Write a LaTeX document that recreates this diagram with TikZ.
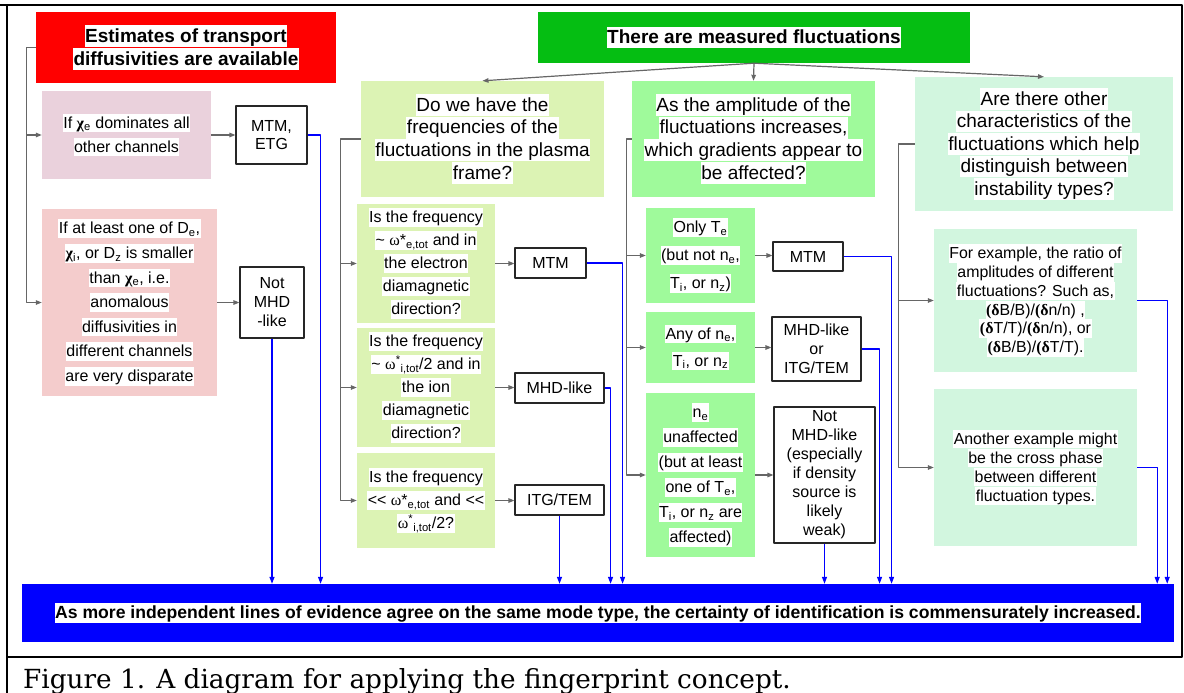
\documentclass[tikz,border=0pt]{standalone}
\usepackage{fontspec}
\setmainfont{Liberation Sans}
\newfontfamily\grk{Liberation Serif}
\newfontfamily\capfont{DejaVu Serif}
\usetikzlibrary{arrows.meta}
\definecolor{boxred}{RGB}{255,0,0}
\definecolor{boxgreen}{RGB}{5,190,18}
\definecolor{mauve}{RGB}{234,209,220}
\definecolor{rose}{RGB}{244,204,204}
\definecolor{lime}{RGB}{220,243,180}
\definecolor{mint}{RGB}{159,250,155}
\definecolor{pale}{RGB}{210,246,223}
\definecolor{linegray}{RGB}{102,102,102}
\newcommand{\hilite}[1]{{\setlength{\fboxsep}{0.5pt}\colorbox{white}{\rule[-0.22em]{0pt}{1.1em}#1}}}
\newcommand{\lo}[1]{\textsubscript{#1}}
\begin{document}
\begin{tikzpicture}[x=1pt, y=-1pt, line join=round, >={Triangle[length=6pt,width=4.5pt]},
  every node/.style={inner sep=0pt, align=center},
  qbox/.style={font=\fontsize{16}{23}\selectfont},
  bigq/.style={font=\fontsize{19}{22.7}\selectfont},
  res/.style={draw=black!85, line width=1.1pt, fill=white, font=\fontsize{16}{19}\selectfont},
  gray line/.style={draw=linegray, line width=1.2pt},
  blue line/.style={draw=blue, line width=1.2pt, >={Triangle[length=7pt,width=5pt]}}]
\useasboundingbox (0,0) rectangle (1184,693);
\draw[line width=2pt] (7,5) rectangle (1182,657);
\draw[line width=2pt] (0,5) -- (7,5) (7,657) -- (7,693);

\node[fill=boxred, minimum width=300pt, minimum height=71pt, font=\fontsize{19}{23.3}\selectfont\bfseries] (avail) at (186,47.5)
  {\hilite{Estimates of transport}\\\hilite{diffusivities are available}};
\node[fill=boxgreen, minimum width=432pt, minimum height=51pt, font=\fontsize{19}{23}\selectfont\bfseries] (meas) at (754,37.5)
  {\hilite{There are measured fluctuations}};

\node[fill=mauve, minimum width=169pt, minimum height=88pt, font=\fontsize{16}{24}\selectfont] (dom) at (126.5,135)
  {\hilite{If \textbf{\grk χ}\lo{e} dominates all}\\\hilite{other channels}};
\node[fill=rose, minimum width=175pt, minimum height=187pt, font=\fontsize{16}{24.6}\selectfont] (disp) at (129.5,302.5)
  {\hilite{If at least one of D\lo{e},}\\\hilite{\textbf{\grk χ}\lo{i}, or D\lo{z} is smaller}\\\hilite{than \textbf{\grk χ}\lo{e}, i.e.}\\
   \hilite{anomalous}\\\hilite{diffusivities in}\\\hilite{different channels}\\\hilite{are very disparate}};
\node[res, minimum width=71pt, minimum height=58pt, font=\fontsize{16}{18}\selectfont] (etg) at (271.5,135) {MTM,\\ETG};
\node[res, minimum width=64pt, minimum height=71pt] (notA) at (272,302.5) {Not\\MHD\\-like};

\node[fill=lime, bigq, minimum width=243pt, minimum height=116pt] (freq) at (482.5,139)
  {\hilite{Do we have the}\\\hilite{frequencies of the}\\\hilite{fluctuations in the plasma}\\\hilite{frame?}};
\node[fill=lime, qbox, minimum width=138pt, minimum height=119pt] (eside) at (426,263.5)
  {\hilite{Is the frequency}\\\hilite{\textasciitilde\ {\grk ω}*\lo{e,tot} and in}\\\hilite{the electron}\\\hilite{diamagnetic}\\\hilite{direction?}};
\node[fill=lime, qbox, minimum width=138pt, minimum height=119pt] (iside) at (426,387.5)
  {\hilite{Is the frequency}\\\hilite{\textasciitilde\ {\grk ω}\textsuperscript{*}\lo{i,tot}/2 and in}\\\hilite{the ion}\\\hilite{diamagnetic}\\\hilite{direction?}};
\node[fill=lime, qbox, minimum width=138pt, minimum height=95pt] (slow) at (426,500.5)
  {\hilite{Is the frequency}\\\hilite{<{}< {\grk ω}*\lo{e,tot} and <{}<}\\\hilite{{\grk ω}\textsuperscript{*}\lo{i,tot}/2?}};
\node[res, minimum width=71pt, minimum height=30pt] (mtmA) at (550.5,263) {MTM};
\node[res, minimum width=89pt, minimum height=30pt] (mhdA) at (559.5,388) {MHD-like};
\node[res, minimum width=89pt, minimum height=30pt] (itg) at (559.5,500) {ITG/TEM};

\node[fill=mint, bigq, minimum width=243pt, minimum height=116pt] (amp) at (753.5,139)
  {\hilite{As the amplitude of the}\\\hilite{fluctuations increases,}\\\hilite{which gradients appear to}\\\hilite{be affected?}};
\node[fill=mint, minimum width=109pt, minimum height=95pt, font=\fontsize{16}{28}\selectfont] (onlyte) at (700.5,255.5)
  {\hilite{Only T\lo{e}}\\\hilite{(but not n\lo{e},}\\\hilite{T\lo{i}, or n\lo{z})}};
\node[fill=mint, minimum width=109pt, minimum height=71pt, font=\fontsize{16}{27}\selectfont] (anyof) at (700.5,347.5)
  {\hilite{Any of n\lo{e},}\\\hilite{T\lo{i}, or n\lo{z}}};
\node[fill=mint, minimum width=109pt, minimum height=164pt, font=\fontsize{16}{25}\selectfont] (neun) at (700.5,475)
  {\hilite{n\lo{e}}\\\hilite{unaffected}\\\hilite{(but at least}\\\hilite{one of T\lo{e},}\\\hilite{T\lo{i}, or n\lo{z} are}\\\hilite{affected)}};
\node[res, minimum width=70pt, minimum height=29pt] (mtmB) at (808,256.5) {MTM};
\node[res, minimum width=89pt, minimum height=64pt] (mhditg) at (816.5,349) {MHD-like\\or\\ITG/TEM};
\node[res, minimum width=101pt, minimum height=136pt] (notB) at (824.5,475)
  {Not\\MHD-like\\(especially\\if density\\source is\\likely\\weak)};

\node[fill=pale, minimum width=258pt, minimum height=134pt, font=\fontsize{19}{22.5}\selectfont] (other) at (1044,144)
  {\hilite{Are there other}\\\hilite{characteristics of the}\\\hilite{fluctuations which help}\\\hilite{distinguish between}\\\hilite{instability types?}};
\node[fill=pale, minimum width=203pt, minimum height=143pt, font=\fontsize{15.9}{18.8}\selectfont] (ratio) at (1035.5,300.5)
  {\hilite{For example, the ratio of}\\\hilite{amplitudes of different}\\\hilite{fluctuations? Such as,}\\
   \hilite{\textbf{\grk(δ}B/B)/\textbf{\grk(δ}n/n) ,}\\\hilite{\textbf{\grk(δ}T/T)/\textbf{\grk(δ}n/n), or}\\\hilite{\textbf{\grk(δ}B/B)/\textbf{\grk(δ}T/T).}};
\node[fill=pale, minimum width=203pt, minimum height=157pt, font=\fontsize{15.9}{19}\selectfont] (phase) at (1035.5,467.5)
  {\hilite{Another example might}\\\hilite{be the cross phase}\\\hilite{between different}\\\hilite{fluctuation types.}};

\node[fill=blue, minimum width=1152pt, minimum height=58pt, font=\fontsize{17.6}{20}\selectfont\bfseries] (sum) at (598,613)
  {\hilite{As more independent lines of evidence agree on the same mode type, the certainty of identification is commensurately increased.}};
\node[anchor=base west, font=\capfont\fontsize{26.3}{29}\selectfont] (cap) at (23,688)
  {Figure 1. A diagram for applying the fingerprint concept.};

\draw[gray line,->] (meas.south) -- (freq.north);
\draw[gray line,->] (meas.south) -- (amp.north);
\draw[gray line,->] (meas.south) -- (other.north);

\draw[gray line,->] (avail.west) -- ++(-9,0) coordinate (lb) |- (disp.west);
\draw[gray line,->] (lb |- dom.west) -- (dom.west);
\draw[gray line,->] (dom.east) -- (etg.west);
\draw[gray line,->] (disp.east) -- (disp.east -| notA.west);

\draw[gray line,->] (freq.west) -- ++(-20,0) coordinate (fb) |- (slow.west);
\draw[gray line,->] (fb |- eside.west) -- (eside.west);
\draw[gray line,->] (fb |- iside.west) -- (iside.west);
\draw[gray line,->] (eside.east) -- (eside.east -| mtmA.west);
\draw[gray line,->] (iside.east) -- (iside.east -| mhdA.west);
\draw[gray line,->] (slow.east) -- (slow.east -| itg.west);

\draw[gray line,->] (amp.west) -- ++(-5,0) coordinate (ab) |- (neun.west);
\draw[gray line,->] (ab |- onlyte.west) -- (onlyte.west);
\draw[gray line,->] (ab |- anyof.west) -- (anyof.west);
\draw[gray line,->] (onlyte.east) -- (onlyte.east -| mtmB.west);
\draw[gray line,->] (anyof.east) -- (anyof.east -| mhditg.west);
\draw[gray line,->] (neun.east) -- (neun.east -| notB.west);

\draw[gray line,->] (other.west) -- ++(-16,0) coordinate (ob) |- (phase.west);
\draw[gray line,->] (ob |- ratio.west) -- (ratio.west);

\draw[blue line,->] (etg.east) -- ++(13,0) coordinate (b1) -- (b1 |- sum.north);
\draw[blue line,->] (notA.south) -- (notA.south |- sum.north);
\draw[blue line,->] (mtmA.east) -- ++(36,0) coordinate (b2) -- (b2 |- sum.north);
\draw[blue line,->] (mhdA.east) -- ++(6,0) coordinate (b3) -- (b3 |- sum.north);
\draw[blue line,->] (itg.south) -- (itg.south |- sum.north);
\draw[blue line,->] (mtmB.east) -- ++(48,0) coordinate (b4) -- (b4 |- sum.north);
\draw[blue line,->] (mhditg.east) -- ++(18,0) coordinate (b5) -- (b5 |- sum.north);
\draw[blue line,->] (notB.south) -- (notB.south |- sum.north);
\draw[blue line,->] (ratio.east) -- ++(30,0) coordinate (b6) -- (b6 |- sum.north);
\draw[blue line,->] (phase.east) -- ++(20,0) coordinate (b7) -- (b7 |- sum.north);
\end{tikzpicture}
\end{document}
